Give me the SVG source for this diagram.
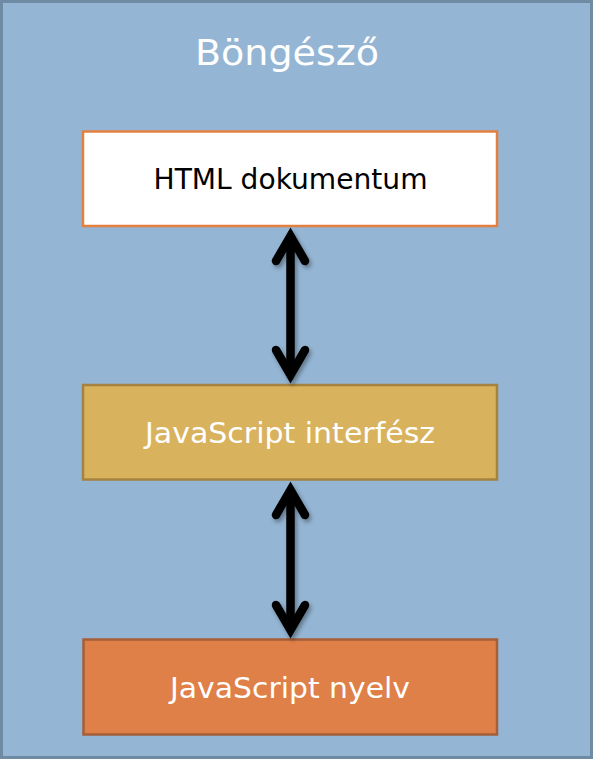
<svg xmlns="http://www.w3.org/2000/svg" width="593" height="759" viewBox="0 0 593 759">
  <defs>
    <filter id="shadow" x="-50%" y="-20%" width="200%" height="140%">
      <feDropShadow dx="2" dy="3" stdDeviation="2" flood-color="#000" flood-opacity="0.35"/>
    </filter>
  </defs>
  <style>
    .lbl { font-family: "DejaVu Sans", "Liberation Sans", sans-serif; font-size: 29px; text-anchor: middle; }
    .title { font-family: "DejaVu Sans", "Liberation Sans", sans-serif; font-size: 35px; text-anchor: middle; fill: #FFFFFF; }
    .arrow { fill: none; stroke: #000; stroke-width: 8.5; stroke-linecap: round; stroke-linejoin: miter; stroke-miterlimit: 10; }
  </style>
  <g id="browser">
    <rect x="1.5" y="1.5" width="590" height="756" fill="#94B5D3" stroke="#6F8BA3" stroke-width="3"/>
    <text class="title" x="287" y="65" textLength="184" lengthAdjust="spacingAndGlyphs">Böngésző</text>
  </g>
  <g id="html-doc">
    <rect x="83" y="131.5" width="414" height="94.5" fill="#FFFFFF" stroke="#E3803F" stroke-width="2.5"/>
    <text class="lbl" x="290.5" y="189" fill="#000000" textLength="274" lengthAdjust="spacingAndGlyphs">HTML dokumentum</text>
  </g>
  <g id="js-interface">
    <rect x="83" y="385" width="414" height="94.5" fill="#D9B25E" stroke="#A5833F" stroke-width="2.5"/>
    <text class="lbl" x="290" y="443" fill="#FFFFFF" textLength="290" lengthAdjust="spacingAndGlyphs">JavaScript interfész</text>
  </g>
  <g id="js-language">
    <rect x="83.5" y="639.5" width="413.5" height="95" fill="#DF8048" stroke="#A55E38" stroke-width="2.5"/>
    <text class="lbl" x="290" y="698" fill="#FFFFFF" textLength="240" lengthAdjust="spacingAndGlyphs">JavaScript nyelv</text>
  </g>
  <g id="connectors" filter="url(#shadow)">
    <path class="arrow" d="M290.5,238 V374"/>
    <path class="arrow" d="M276,261 L290.5,236 L305,261"/>
    <path class="arrow" d="M276,350 L290.5,375 L305,350"/>
    <path class="arrow" d="M290.5,492 V629"/>
    <path class="arrow" d="M276,515 L290.5,490 L305,515"/>
    <path class="arrow" d="M276,605 L290.5,630 L305,605"/>
  </g>
</svg>
